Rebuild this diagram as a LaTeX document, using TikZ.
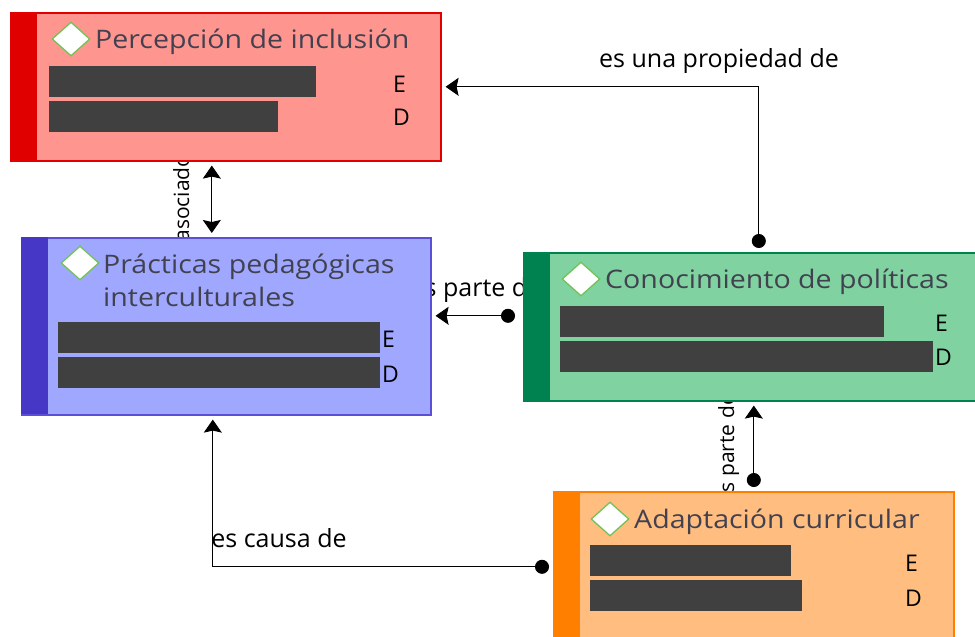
\documentclass[tikz,border=0pt]{standalone}
\usepackage{fontspec}
\setmainfont{Open Sans}
\newfontfamily\titlefont[FakeStretch=1.12]{Open Sans}
\usetikzlibrary{arrows.meta}
\usetikzlibrary{positioning}
\usetikzlibrary{shapes.geometric}

\definecolor{percepline}{HTML}{E00000}
\definecolor{percepfill}{HTML}{FF958F}
\definecolor{practline}{HTML}{5A4FD6}
\definecolor{practbar}{HTML}{4637C6}
\definecolor{practfill}{HTML}{9FA7FF}
\definecolor{conocline}{HTML}{008150}
\definecolor{conocfill}{HTML}{80D2A0}
\definecolor{adaptline}{HTML}{FF8000}
\definecolor{adaptfill}{HTML}{FFBD80}
\definecolor{tagline}{HTML}{72C25A}
\definecolor{titletext}{HTML}{414150}
\definecolor{hidden}{HTML}{404040}

\pgfdeclarelayer{background}
\pgfsetlayers{background,main}

\begin{document}
\begin{tikzpicture}[x=1pt,y=-1pt,
  box/.style={rectangle,line width=1.6pt,inner sep=0pt,anchor=north west},
  stripe/.style={rectangle,inner sep=0pt,anchor=north west,minimum width=27pt},
  tag/.style={diamond,draw=tagline,fill=white,line width=1.3pt,inner sep=0pt,
    minimum width=38pt,minimum height=34pt},
  title/.style={anchor=base west,inner sep=0pt,text=titletext,
    font=\titlefont\fontsize{25.5}{30}\selectfont},
  redact/.style={rectangle,fill=hidden,inner sep=0pt,anchor=north west,
    minimum height=31pt},
  code/.style={anchor=base west,inner sep=0pt,font=\fontsize{23}{27}\selectfont},
  link/.style={line width=1pt,shorten <=4pt,shorten >=4pt},
  lbl/.style={inner sep=0pt,font=\fontsize{25}{30}\selectfont},
  vlbl/.style={inner sep=0pt,rotate=90,anchor=base,font=\fontsize{21}{25}\selectfont}
]
\useasboundingbox (0,0) rectangle (975,637);
\clip (0,0) rectangle (975,637);

% concept boxes
\node[box,draw=percepline,fill=percepfill,minimum width=430pt,minimum height=148pt]
  (percep) at (10,12) {};
\node[stripe,fill=percepline,minimum height=148pt] at (percep.north west) {};
\node[tag] (percep-tag) at ([shift={(61,27)}]percep.north west) {};
\node[title] (percep-title) at ([shift={(85,36)}]percep.north west) {Percepción de inclusión};
\node[redact,minimum width=267pt] (percep-e) at ([shift={(39,54)}]percep.north west) {};
\node[redact,minimum width=229pt] (percep-d) at ([shift={(39,89)}]percep.north west) {};
\node[code] at ([shift={(383,80)}]percep.north west) {E};
\node[code] at ([shift={(383,113)}]percep.north west) {D};

\node[box,draw=practline,fill=practfill,minimum width=409pt,minimum height=177pt]
  (practicas) at (21,237) {};
\node[stripe,fill=practbar,minimum height=177pt] at (practicas.north west) {};
\node[tag] (practicas-tag) at ([shift={(59,26)}]practicas.north west) {};
\node[title] (practicas-title) at ([shift={(82,36)}]practicas.north west) {Prácticas pedagógicas};
\node[title] (practicas-title2) at ([shift={(82,69)}]practicas.north west) {interculturales};
\node[redact,minimum width=322pt] (practicas-e) at ([shift={(37,85)}]practicas.north west) {};
\node[redact,minimum width=322pt] (practicas-d) at ([shift={(37,120)}]practicas.north west) {};
\node[code] at ([shift={(361,110)}]practicas.north west) {E};
\node[code] at ([shift={(361,145)}]practicas.north west) {D};

\node[box,draw=conocline,fill=conocfill,minimum width=460pt,minimum height=148pt]
  (conoc) at (523,252) {};
\node[stripe,fill=conocline,minimum height=148pt] at (conoc.north west) {};
\node[tag] (conoc-tag) at ([shift={(58,27)}]conoc.north west) {};
\node[title] (conoc-title) at ([shift={(82,36)}]conoc.north west) {Conocimiento de políticas};
\node[redact,minimum width=324pt] (conoc-e) at ([shift={(37,54)}]conoc.north west) {};
\node[redact,minimum width=373pt] (conoc-d) at ([shift={(37,89)}]conoc.north west) {};
\node[code] at ([shift={(412,79)}]conoc.north west) {E};
\node[code] at ([shift={(412,113)}]conoc.north west) {D};

\node[box,draw=adaptline,fill=adaptfill,minimum width=400pt,minimum height=150pt]
  (adapt) at (553,491) {};
\node[stripe,fill=adaptline,minimum height=150pt] at (adapt.north west) {};
\node[tag] (adapt-tag) at ([shift={(57,28)}]adapt.north west) {};
\node[title] (adapt-title) at ([shift={(81,37)}]adapt.north west) {Adaptación curricular};
\node[redact,minimum width=201pt] (adapt-e) at ([shift={(37,54)}]adapt.north west) {};
\node[redact,minimum width=212pt] (adapt-d) at ([shift={(37,89)}]adapt.north west) {};
\node[code] at ([shift={(352,80)}]adapt.north west) {E};
\node[code] at ([shift={(352,115)}]adapt.north west) {D};

% relations, under the boxes
\begin{pgfonlayer}{background}
\draw[link,{Stealth[length=13pt,width=18pt,inset=2pt]}-{Stealth[length=13pt,width=18pt,inset=2pt]}]
  ([xshift=-14pt]percep.south) -- ([xshift=-14pt]percep.south |- practicas.north);
\node[vlbl] (l-asoc) at (189,198) {asociado};

\draw[link,{Circle[length=14pt]}-{Stealth[length=13pt,width=18pt,inset=2pt]}]
  ([xshift=5pt]conoc.north) |- (percep.east);
\node[lbl,anchor=base] (l-prop) at (719,67) {es una propiedad de};

\draw[link,shorten <=8pt,{Circle[length=14pt]}-{Stealth[length=13pt,width=18pt,inset=2pt]}]
  ([yshift=11pt]conoc.west) -- ([yshift=11pt]conoc.west -| practicas.east);
\node[lbl,anchor=base] (l-parte) at (476,296) {es parte de};

\draw[link,{Circle[length=14pt]}-{Stealth[length=13pt,width=18pt,inset=2pt]}]
  (adapt.north) -- (adapt.north |- conoc.south);
\node[vlbl] (l-parte2) at (734,449) {es parte de};

\draw[link,{Circle[length=14pt]}-{Stealth[length=13pt,width=18pt,inset=2pt]}]
  (adapt.west) -| ([xshift=-13.5pt]practicas.south);
\node[lbl,anchor=base] (l-causa) at (279,547) {es causa de};
\end{pgfonlayer}
\end{tikzpicture}
\end{document}
